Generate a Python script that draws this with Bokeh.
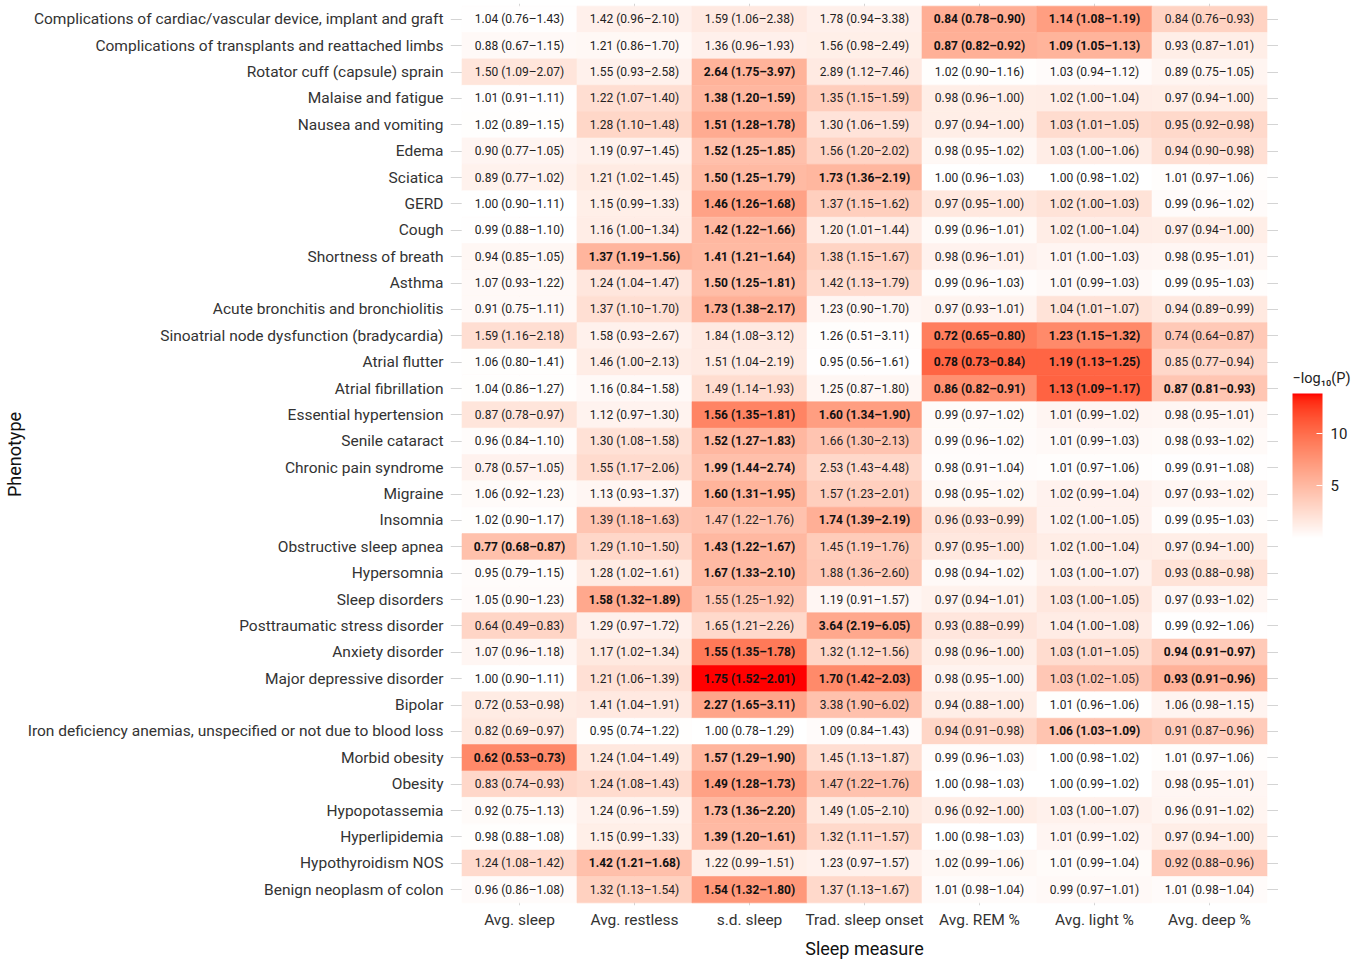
from bokeh.plotting import figure
from bokeh.layouts import row
from bokeh.models import Range1d, FixedTicker, ColumnDataSource, LinearColorMapper, ColorBar, Label
from bokeh.core.properties import value
from bokeh.embed import file_html
from bokeh.resources import INLINE

# ---------------- data ----------------
phenotypes = [
    "Complications of cardiac/vascular device, implant and graft",
    "Complications of transplants and reattached limbs",
    "Rotator cuff (capsule) sprain",
    "Malaise and fatigue",
    "Nausea and vomiting",
    "Edema",
    "Sciatica",
    "GERD",
    "Cough",
    "Shortness of breath",
    "Asthma",
    "Acute bronchitis and bronchiolitis",
    "Sinoatrial node dysfunction (bradycardia)",
    "Atrial flutter",
    "Atrial fibrillation",
    "Essential hypertension",
    "Senile cataract",
    "Chronic pain syndrome",
    "Migraine",
    "Insomnia",
    "Obstructive sleep apnea",
    "Hypersomnia",
    "Sleep disorders",
    "Posttraumatic stress disorder",
    "Anxiety disorder",
    "Major depressive disorder",
    "Bipolar",
    "Iron deficiency anemias, unspecified or not due to blood loss",
    "Morbid obesity",
    "Obesity",
    "Hypopotassemia",
    "Hyperlipidemia",
    "Hypothyroidism NOS",
    "Benign neoplasm of colon",
]

measures = ["Avg. sleep", "Avg. restless", "s.d. sleep", "Trad. sleep onset",
            "Avg. REM %", "Avg. light %", "Avg. deep %"]

avg_sleep_or = ["1.04 (0.76–1.43)", "0.88 (0.67–1.15)", "1.50 (1.09–2.07)", "1.01 (0.91–1.11)",
    "1.02 (0.89–1.15)", "0.90 (0.77–1.05)", "0.89 (0.77–1.02)", "1.00 (0.90–1.11)",
    "0.99 (0.88–1.10)", "0.94 (0.85–1.05)", "1.07 (0.93–1.22)", "0.91 (0.75–1.11)",
    "1.59 (1.16–2.18)", "1.06 (0.80–1.41)", "1.04 (0.86–1.27)", "0.87 (0.78–0.97)",
    "0.96 (0.84–1.10)", "0.78 (0.57–1.05)", "1.06 (0.92–1.23)", "1.02 (0.90–1.17)",
    "0.77 (0.68–0.87)", "0.95 (0.79–1.15)", "1.05 (0.90–1.23)", "0.64 (0.49–0.83)",
    "1.07 (0.96–1.18)", "1.00 (0.90–1.11)", "0.72 (0.53–0.98)", "0.82 (0.69–0.97)",
    "0.62 (0.53–0.73)", "0.83 (0.74–0.93)", "0.92 (0.75–1.13)", "0.98 (0.88–1.08)",
    "1.24 (1.08–1.42)", "0.96 (0.86–1.08)"]
avg_restless_or = ["1.42 (0.96–2.10)", "1.21 (0.86–1.70)", "1.55 (0.93–2.58)", "1.22 (1.07–1.40)",
    "1.28 (1.10–1.48)", "1.19 (0.97–1.45)", "1.21 (1.02–1.45)", "1.15 (0.99–1.33)",
    "1.16 (1.00–1.34)", "1.37 (1.19–1.56)", "1.24 (1.04–1.47)", "1.37 (1.10–1.70)",
    "1.58 (0.93–2.67)", "1.46 (1.00–2.13)", "1.16 (0.84–1.58)", "1.12 (0.97–1.30)",
    "1.30 (1.08–1.58)", "1.55 (1.17–2.06)", "1.13 (0.93–1.37)", "1.39 (1.18–1.63)",
    "1.29 (1.10–1.50)", "1.28 (1.02–1.61)", "1.58 (1.32–1.89)", "1.29 (0.97–1.72)",
    "1.17 (1.02–1.34)", "1.21 (1.06–1.39)", "1.41 (1.04–1.91)", "0.95 (0.74–1.22)",
    "1.24 (1.04–1.49)", "1.24 (1.08–1.43)", "1.24 (0.96–1.59)", "1.15 (0.99–1.33)",
    "1.42 (1.21–1.68)", "1.32 (1.13–1.54)"]
sd_sleep_or = ["1.59 (1.06–2.38)", "1.36 (0.96–1.93)", "2.64 (1.75–3.97)", "1.38 (1.20–1.59)",
    "1.51 (1.28–1.78)", "1.52 (1.25–1.85)", "1.50 (1.25–1.79)", "1.46 (1.26–1.68)",
    "1.42 (1.22–1.66)", "1.41 (1.21–1.64)", "1.50 (1.25–1.81)", "1.73 (1.38–2.17)",
    "1.84 (1.08–3.12)", "1.51 (1.04–2.19)", "1.49 (1.14–1.93)", "1.56 (1.35–1.81)",
    "1.52 (1.27–1.83)", "1.99 (1.44–2.74)", "1.60 (1.31–1.95)", "1.47 (1.22–1.76)",
    "1.43 (1.22–1.67)", "1.67 (1.33–2.10)", "1.55 (1.25–1.92)", "1.65 (1.21–2.26)",
    "1.55 (1.35–1.78)", "1.75 (1.52–2.01)", "2.27 (1.65–3.11)", "1.00 (0.78–1.29)",
    "1.57 (1.29–1.90)", "1.49 (1.28–1.73)", "1.73 (1.36–2.20)", "1.39 (1.20–1.61)",
    "1.22 (0.99–1.51)", "1.54 (1.32–1.80)"]
trad_onset_or = ["1.78 (0.94–3.38)", "1.56 (0.98–2.49)", "2.89 (1.12–7.46)", "1.35 (1.15–1.59)",
    "1.30 (1.06–1.59)", "1.56 (1.20–2.02)", "1.73 (1.36–2.19)", "1.37 (1.15–1.62)",
    "1.20 (1.01–1.44)", "1.38 (1.15–1.67)", "1.42 (1.13–1.79)", "1.23 (0.90–1.70)",
    "1.26 (0.51–3.11)", "0.95 (0.56–1.61)", "1.25 (0.87–1.80)", "1.60 (1.34–1.90)",
    "1.66 (1.30–2.13)", "2.53 (1.43–4.48)", "1.57 (1.23–2.01)", "1.74 (1.39–2.19)",
    "1.45 (1.19–1.76)", "1.88 (1.36–2.60)", "1.19 (0.91–1.57)", "3.64 (2.19–6.05)",
    "1.32 (1.12–1.56)", "1.70 (1.42–2.03)", "3.38 (1.90–6.02)", "1.09 (0.84–1.43)",
    "1.45 (1.13–1.87)", "1.47 (1.22–1.76)", "1.49 (1.05–2.10)", "1.32 (1.11–1.57)",
    "1.23 (0.97–1.57)", "1.37 (1.13–1.67)"]
rem_or = ["0.84 (0.78–0.90)", "0.87 (0.82–0.92)", "1.02 (0.90–1.16)", "0.98 (0.96–1.00)",
    "0.97 (0.94–1.00)", "0.98 (0.95–1.02)", "1.00 (0.96–1.03)", "0.97 (0.95–1.00)",
    "0.99 (0.96–1.01)", "0.98 (0.96–1.01)", "0.99 (0.96–1.03)", "0.97 (0.93–1.01)",
    "0.72 (0.65–0.80)", "0.78 (0.73–0.84)", "0.86 (0.82–0.91)", "0.99 (0.97–1.02)",
    "0.99 (0.96–1.02)", "0.98 (0.91–1.04)", "0.98 (0.95–1.02)", "0.96 (0.93–0.99)",
    "0.97 (0.95–1.00)", "0.98 (0.94–1.02)", "0.97 (0.94–1.01)", "0.93 (0.88–0.99)",
    "0.98 (0.96–1.00)", "0.98 (0.95–1.00)", "0.94 (0.88–1.00)", "0.94 (0.91–0.98)",
    "0.99 (0.96–1.03)", "1.00 (0.98–1.03)", "0.96 (0.92–1.00)", "1.00 (0.98–1.03)",
    "1.02 (0.99–1.06)", "1.01 (0.98–1.04)"]
light_or = ["1.14 (1.08–1.19)", "1.09 (1.05–1.13)", "1.03 (0.94–1.12)", "1.02 (1.00–1.04)",
    "1.03 (1.01–1.05)", "1.03 (1.00–1.06)", "1.00 (0.98–1.02)", "1.02 (1.00–1.03)",
    "1.02 (1.00–1.04)", "1.01 (1.00–1.03)", "1.01 (0.99–1.03)", "1.04 (1.01–1.07)",
    "1.23 (1.15–1.32)", "1.19 (1.13–1.25)", "1.13 (1.09–1.17)", "1.01 (0.99–1.02)",
    "1.01 (0.99–1.03)", "1.01 (0.97–1.06)", "1.02 (0.99–1.04)", "1.02 (1.00–1.05)",
    "1.02 (1.00–1.04)", "1.03 (1.00–1.07)", "1.03 (1.00–1.05)", "1.04 (1.00–1.08)",
    "1.03 (1.01–1.05)", "1.03 (1.02–1.05)", "1.01 (0.96–1.06)", "1.06 (1.03–1.09)",
    "1.00 (0.98–1.02)", "1.00 (0.99–1.02)", "1.03 (1.00–1.07)", "1.01 (0.99–1.02)",
    "1.01 (0.99–1.04)", "0.99 (0.97–1.01)"]
deep_or = ["0.84 (0.76–0.93)", "0.93 (0.87–1.01)", "0.89 (0.75–1.05)", "0.97 (0.94–1.00)",
    "0.95 (0.92–0.98)", "0.94 (0.90–0.98)", "1.01 (0.97–1.06)", "0.99 (0.96–1.02)",
    "0.97 (0.94–1.00)", "0.98 (0.95–1.01)", "0.99 (0.95–1.03)", "0.94 (0.89–0.99)",
    "0.74 (0.64–0.87)", "0.85 (0.77–0.94)", "0.87 (0.81–0.93)", "0.98 (0.95–1.01)",
    "0.98 (0.93–1.02)", "0.99 (0.91–1.08)", "0.97 (0.93–1.02)", "0.99 (0.95–1.03)",
    "0.97 (0.94–1.00)", "0.93 (0.88–0.98)", "0.97 (0.93–1.02)", "0.99 (0.92–1.06)",
    "0.94 (0.91–0.97)", "0.93 (0.91–0.96)", "1.06 (0.98–1.15)", "0.91 (0.87–0.96)",
    "1.01 (0.97–1.06)", "0.98 (0.95–1.01)", "0.96 (0.91–1.02)", "0.97 (0.94–1.00)",
    "0.92 (0.88–0.96)", "1.01 (0.98–1.04)"]

# -log10(P)
avg_sleep_lp = [0.1, 0.45, 1.9, 0.07, 0.12, 0.74, 0.98, 0.0, 0.06, 0.6, 0.48, 0.46, 2.4, 0.16,
    0.16, 1.9, 0.26, 0.95, 0.37, 0.11, 4.5, 0.23, 0.27, 3.05, 0.7, 0.0, 1.44, 1.65, 8.3,
    2.86, 0.37, 0.15, 2.68, 0.31]
avg_restless_lp = [1.1, 0.56, 1.04, 2.4, 2.95, 1.05, 1.47, 1.2, 1.33, 5.3, 1.83, 2.34, 1.05,
    1.3, 0.45, 0.9, 2.16, 2.62, 0.66, 4.2, 2.9, 1.47, 6.2, 1.09, 1.62, 2.23, 1.57, 0.16,
    1.72, 2.57, 1.02, 1.2, 4.56, 3.35]
sd_sleep_lp = [1.6, 1.08, 5.47, 5.15, 6.0, 4.55, 5.0, 6.6, 5.1, 5.0, 4.75, 5.7, 1.61, 1.52,
    2.52, 8.6, 5.15, 4.56, 5.4, 4.4, 5.1, 5.0, 4.2, 2.77, 9.3, 13.8, 6.4, 0.0, 5.3, 6.7,
    5.1, 4.95, 1.19, 7.3]
trad_onset_lp = [1.1, 1.2, 1.55, 3.55, 2.0, 3.1, 5.2, 3.5, 1.36, 3.15, 2.55, 0.7, 0.21, 0.07,
    0.64, 6.9, 4.24, 2.84, 3.5, 5.75, 3.7, 3.9, 0.67, 6.2, 3.0, 8.2, 4.45, 0.28, 2.4, 4.4,
    1.62, 2.77, 1.04, 2.8]
rem_lp = [5.8, 5.7, 0.12, 1.28, 1.27, 0.58, 0.0, 1.7, 0.36, 0.92, 0.24, 0.83, 9.0, 10.5,
    7.85, 0.36, 0.3, 0.26, 0.58, 1.98, 1.7, 0.48, 1.0, 1.8, 1.28, 0.9, 1.24, 2.97, 0.24,
    0.0, 1.26, 0.0, 0.59, 0.3]
light_lp = [6.9, 5.4, 0.3, 1.32, 2.54, 1.33, 0.0, 2.05, 1.32, 0.73, 0.48, 2.1, 8.2, 10.5,
    10.6, 0.72, 0.48, 0.18, 0.93, 0.95, 1.32, 1.06, 1.76, 1.35, 2.54, 4.0, 0.15, 4.27, 0.0,
    0.0, 1.06, 0.72, 0.37, 0.48]
deep_lp = [3.2, 1.25, 0.76, 1.27, 2.8, 2.36, 0.18, 0.3, 1.27, 0.7, 0.2, 1.65, 3.9, 2.85, 4.1,
    0.7, 0.41, 0.09, 0.7, 0.2, 1.27, 2.1, 0.7, 0.1, 3.85, 5.5, 0.82, 3.75, 0.18, 0.7, 0.8,
    1.27, 3.77, 0.3]

# significant (bold) cells, 1 = bold
avg_sleep_sig = [0]*20 + [1] + [0]*7 + [1] + [0]*5
avg_restless_sig = [0]*9 + [1] + [0]*12 + [1] + [0]*9 + [1] + [0]
sd_sleep_sig = [0, 0, 1, 1, 1, 1, 1, 1, 1, 1, 1, 1, 0, 0, 0, 1, 1, 1, 1, 0, 1, 1, 0, 0,
    1, 1, 1, 0, 1, 1, 1, 1, 0, 1]
trad_onset_sig = [0]*6 + [1] + [0]*8 + [1] + [0]*3 + [1] + [0]*3 + [1] + [0] + [1] + [0]*8
rem_sig = [1, 1] + [0]*10 + [1, 1, 1] + [0]*19
light_sig = [1, 1] + [0]*10 + [1, 1, 1] + [0]*12 + [1] + [0]*6
deep_sig = [0]*14 + [1] + [0]*9 + [1, 1] + [0]*8

legend_ticks = [5, 10]
legend_title = "−log₁₀(P)"

cols_or = [avg_sleep_or, avg_restless_or, sd_sleep_or, trad_onset_or, rem_or, light_or, deep_or]
cols_lp = [avg_sleep_lp, avg_restless_lp, sd_sleep_lp, trad_onset_lp, rem_lp, light_lp, deep_lp]
cols_sig = [avg_sleep_sig, avg_restless_sig, sd_sleep_sig, trad_onset_sig, rem_sig, light_sig, deep_sig]

# ---------------- palette (white -> red, interpolated in CIELAB) ----------------
def lab_to_hex(L, a, b):
    fy = (L + 16) / 116.0
    fx = fy + a / 500.0
    fz = fy - b / 200.0
    def finv(t):
        return t ** 3 if t ** 3 > 0.008856 else (t - 16 / 116.0) / 7.787
    X, Y, Z = 0.95047 * finv(fx), finv(fy), 1.08883 * finv(fz)
    r = 3.2406 * X - 1.5372 * Y - 0.4986 * Z
    g = -0.9689 * X + 1.8758 * Y + 0.0415 * Z
    bl = 0.0557 * X - 0.2040 * Y + 1.0570 * Z
    def gam(c):
        c = 12.92 * c if c <= 0.0031308 else 1.055 * max(c, 0) ** (1 / 2.4) - 0.055
        return int(round(max(0, min(1, c)) * 255))
    return "#%02x%02x%02x" % (gam(r), gam(g), gam(bl))

W = (100.0, 0.0, 0.0)
R = (53.2408, 80.0925, 67.2032)
palette = [lab_to_hex(*[W[k] + (R[k] - W[k]) * i / 255.0 for k in range(3)]) for i in range(256)]
mapper = LinearColorMapper(palette=palette, low=0, high=13.8)

# ---------------- sources ----------------
n = len(phenotypes)
xs, ys, lps, labs, sigs = [], [], [], [], []
for j in range(len(measures)):
    for i in range(n):
        xs.append(j + 1)
        ys.append(n - i)
        lps.append(cols_lp[j][i])
        labs.append(cols_or[j][i])
        sigs.append(cols_sig[j][i])
tiles = ColumnDataSource(dict(x=xs, y=ys, lp=lps))
norm_src = ColumnDataSource(dict(
    x=[x for x, s in zip(xs, sigs) if not s], y=[y for y, s in zip(ys, sigs) if not s],
    t=[t for t, s in zip(labs, sigs) if not s]))
bold_src = ColumnDataSource(dict(
    x=[x for x, s in zip(xs, sigs) if s], y=[y for y, s in zip(ys, sigs) if s],
    t=[t for t, s in zip(labs, sigs) if s]))

FONT = "Roboto"
FW, FH = 828, 902
TOP = 3

p = figure(frame_width=FW, frame_height=FH,
           x_range=Range1d(0.4, len(measures) + 0.6), y_range=Range1d(0.4, n + 0.6),
           output_backend="svg", toolbar_location=None,
           min_border_top=TOP, min_border_left=448, min_border_right=0, min_border_bottom=0)
p.outline_line_color = None
p.background_fill_color = "white"

p.rect(x="x", y="y", width=1, height=1, source=tiles,
       fill_color={"field": "lp", "transform": mapper},
       line_color={"field": "lp", "transform": mapper}, line_width=0.6)

p.text(x="x", y="y", text="t", source=norm_src, text_align="center", text_baseline="middle",
       text_font=value(FONT), text_font_size="12px", text_color="#222222")
p.text(x="x", y="y", text="t", source=bold_src, text_align="center", text_baseline="middle",
       text_font=value(FONT), text_font_size="12px", text_font_style="bold", text_color="#111111")

# axes
p.xaxis.ticker = FixedTicker(ticks=list(range(1, len(measures) + 1)))
p.xaxis.major_label_overrides = {j + 1: m for j, m in enumerate(measures)}
p.yaxis.ticker = FixedTicker(ticks=list(range(1, n + 1)))
p.yaxis.major_label_overrides = {n - i: ph for i, ph in enumerate(phenotypes)}
p.xaxis.axis_label = "Sleep measure"
p.yaxis.axis_label = "Phenotype"
for ax in (p.xaxis, p.yaxis):
    ax.axis_line_color = None
    ax.major_tick_line_color = None
    ax.minor_tick_line_color = None
    ax.major_tick_in = 0
    ax.major_tick_out = 0
    ax.major_label_text_font = FONT
    ax.major_label_text_font_size = "15.5px"
    ax.major_label_text_color = "#333333"
    ax.axis_label_text_font = FONT
    ax.axis_label_text_font_size = "18px"
    ax.axis_label_text_font_style = "normal"
    ax.axis_label_text_color = "#111111"
p.xaxis.major_label_standoff = 5
p.yaxis.major_label_standoff = 7
p.xaxis.axis_label_standoff = 6
p.yaxis.axis_label_standoff = 0

p.xgrid.ticker = FixedTicker(ticks=list(range(1, len(measures) + 1)))
p.ygrid.ticker = FixedTicker(ticks=list(range(1, n + 1)))
p.grid.grid_line_color = "#d4d4d4"
p.grid.grid_line_width = 1

# ---------------- legend panel (small figure whose frame is aligned with the heatmap's) ----------------
LW = 88
FRAME_BOTTOM = TOP + FH   # page y of the frames' bottom edge
leg = figure(width=LW, height=957, x_range=Range1d(0, LW), y_range=Range1d(0, FH),
             output_backend="svg", toolbar_location=None,
             x_axis_type=None, y_axis_type=None,
             min_border=0, min_border_left=0, min_border_right=0,
             min_border_top=0, min_border_bottom=0)
leg.outline_line_color = None
leg.grid.visible = False

cb = ColorBar(color_mapper=mapper, ticker=FixedTicker(ticks=legend_ticks),
              width=30, height=145, title=None,
              major_label_text_font=FONT, major_label_text_font_size="15px",
              major_label_text_color="#222222", label_standoff=8,
              major_tick_line_color="white", major_tick_in=6, major_tick_out=0,
              bar_line_color=None, border_line_color=None, background_fill_color=None,
              padding=0, margin=0, location=(14, FRAME_BOTTOM - 542))
leg.add_layout(cb, "center")

leg.add_layout(Label(x=14, y=FRAME_BOTTOM - 380, text=legend_title,
                     text_font=FONT, text_font_size="14.5px", text_color="#222222",
                     text_align="left", text_baseline="middle"))

layout = row(p, leg, spacing=0)
open("out.html", "w").write(file_html(layout, INLINE))
